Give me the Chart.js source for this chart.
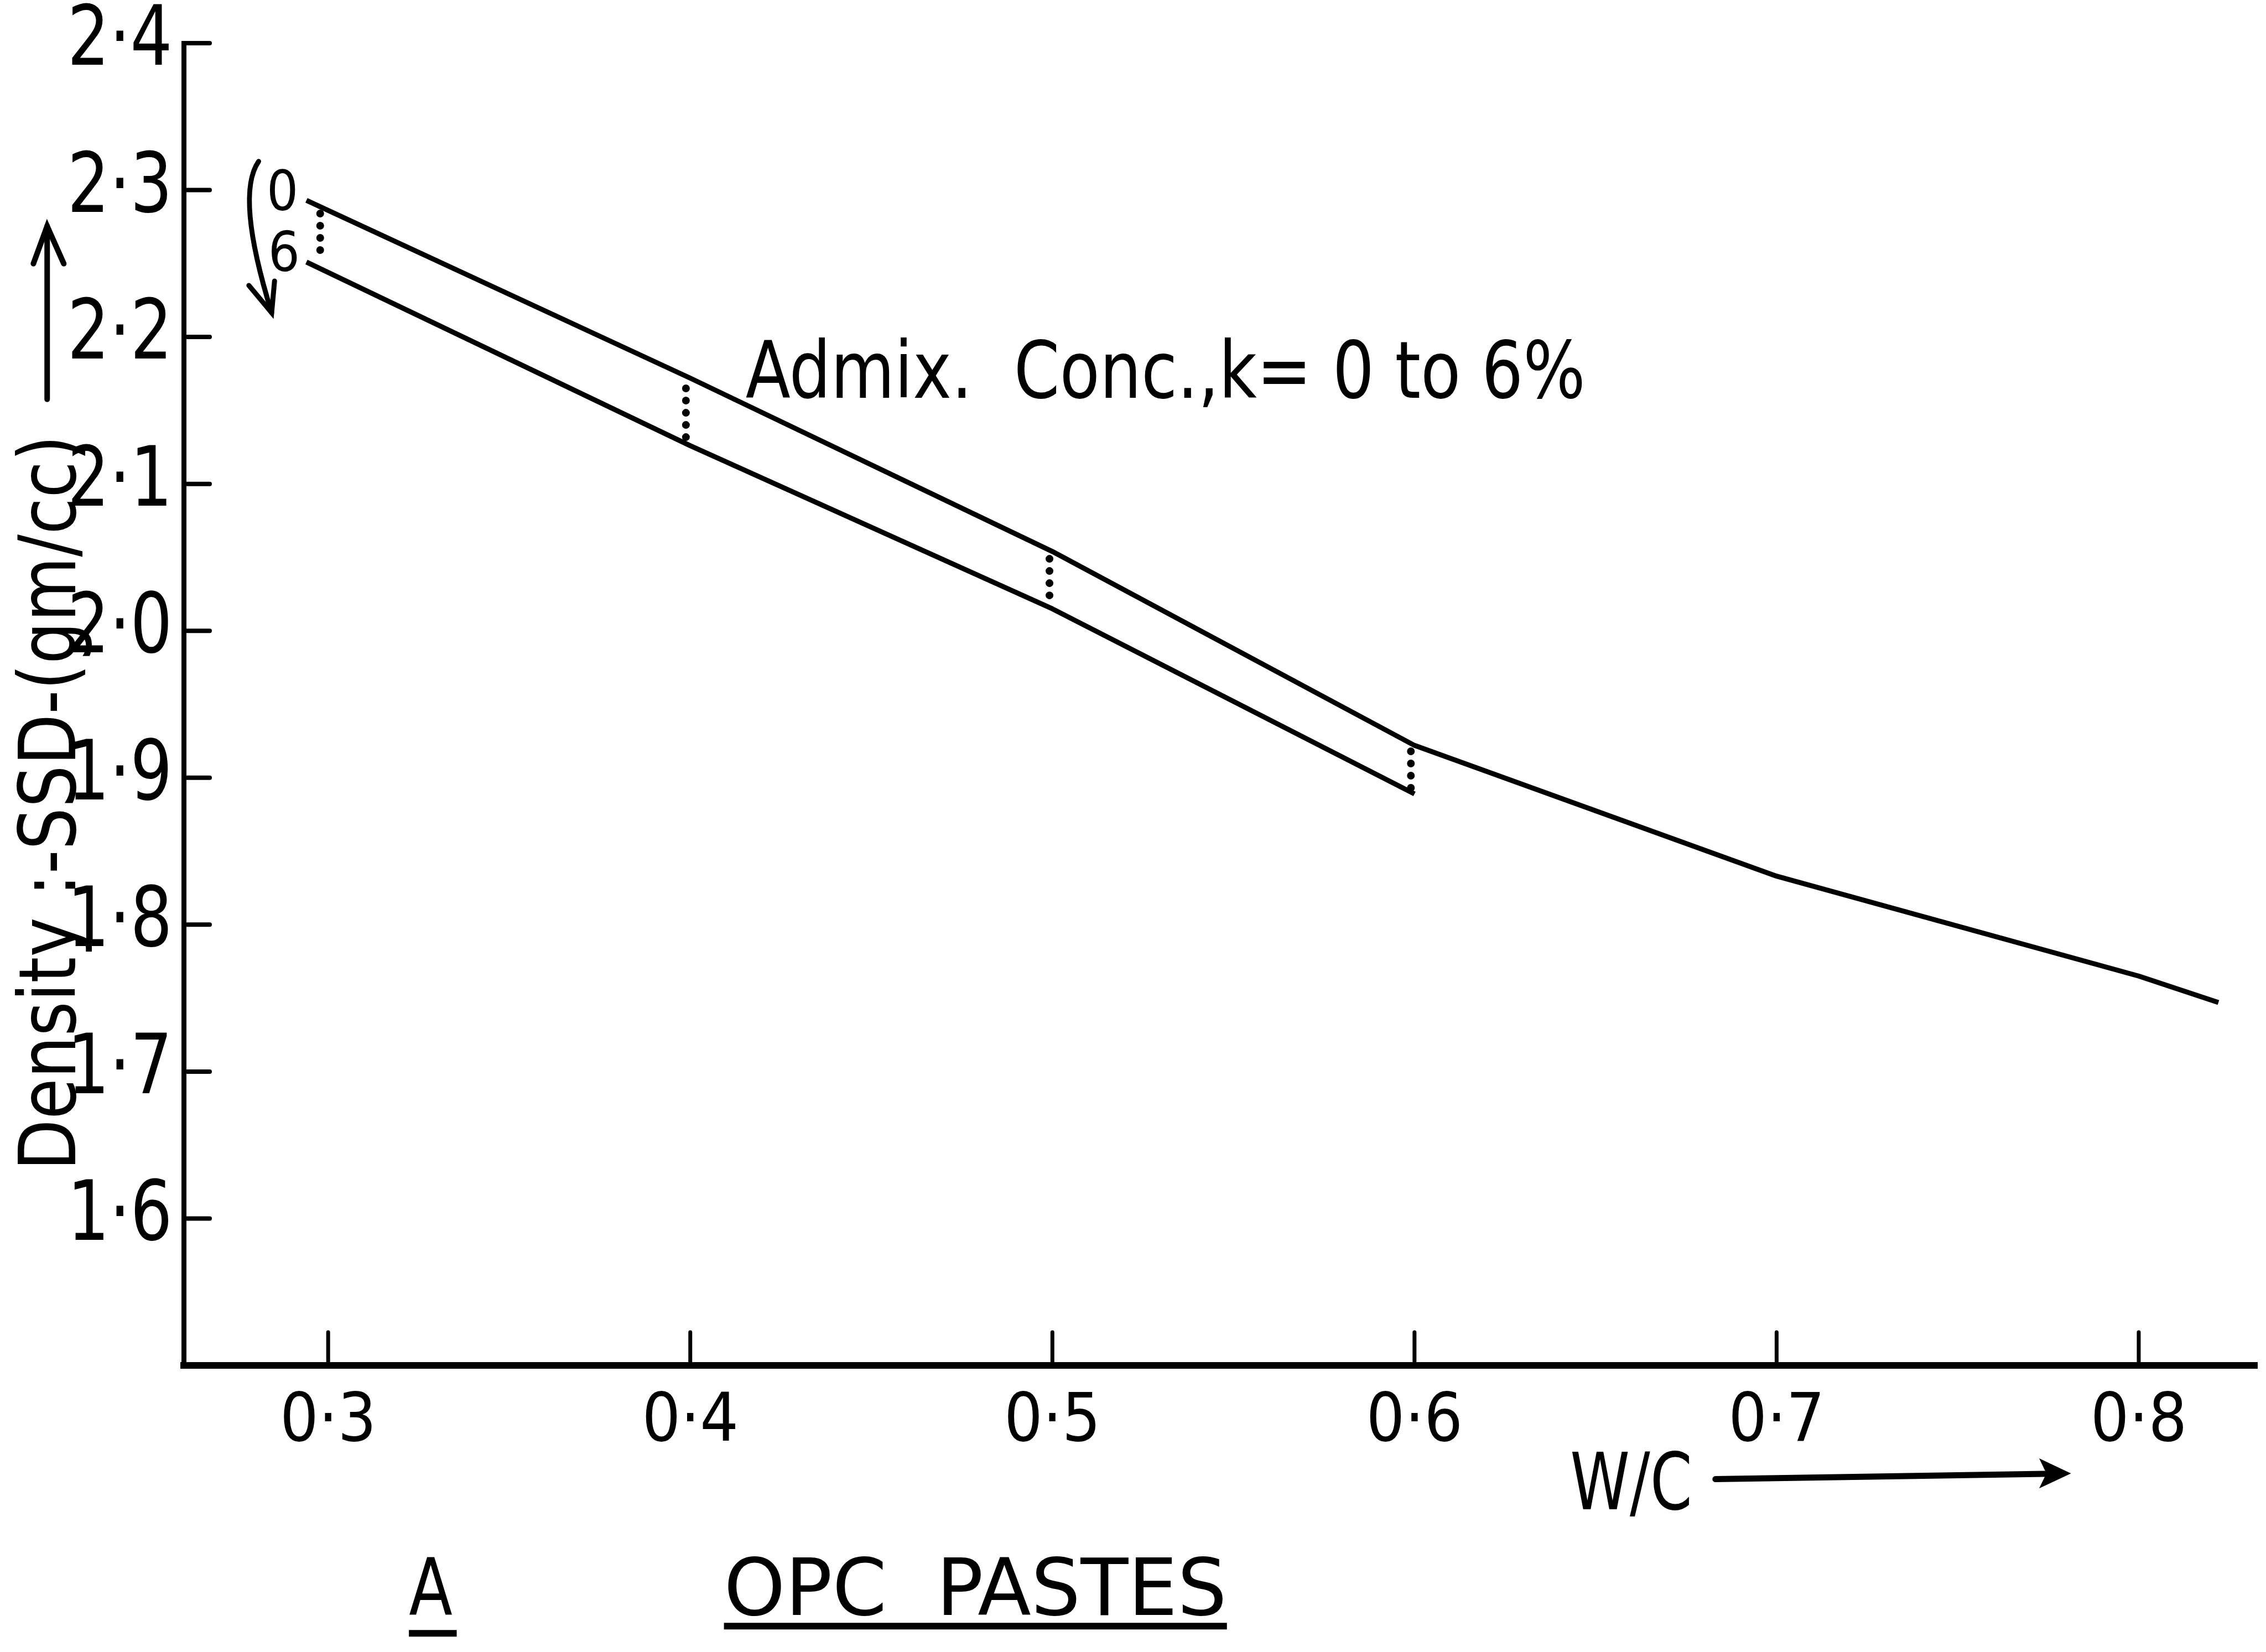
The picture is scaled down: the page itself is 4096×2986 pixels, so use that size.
<!DOCTYPE html>
<html>
<head>
<meta charset="utf-8">
<script src="https://cdn.jsdelivr.net/npm/chart.js@4.4.1/dist/chart.umd.min.js"></script>
<style>
  html, body { margin: 0; padding: 0; background: #ffffff; }
  #wrap { width: 4096px; height: 2986px; position: relative; }
</style>
</head>
<body>
<div id="wrap"><canvas id="c" width="4096" height="2986"></canvas></div>
<script>
// ---------- data ----------
const wcUpper   = [0.294, 0.4, 0.5, 0.6, 0.7, 0.8, 0.822];
const densityK0 = [2.293, 2.172, 2.054, 1.922, 1.833, 1.765, 1.747];
const wcLower   = [0.294, 0.4, 0.5, 0.6];
const densityK6 = [2.251, 2.126, 2.015, 1.889];
// dotted connectors between the two curves
const dotWc     = [0.2978, 0.3988, 0.4992, 0.599];
const dotTop    = [2.284, 2.165, 2.049, 1.918];
const dotBottom = [2.254, 2.129, 2.017, 1.889];
// ticks
const xTickValues = [0.3, 0.4, 0.5, 0.6, 0.7, 0.8];
const xTickLabels = ['0·3', '0·4', '0·5', '0·6', '0·7', '0·8'];
const yTickValues = [1.6, 1.7, 1.8, 1.9, 2.0, 2.1, 2.2, 2.3, 2.4];
const yTickLabels = ['1·6', '1·7', '1·8', '1·9', '2·0', '2·1', '2·2', '2·3', '2·4'];
// texts
const yTitle = 'Density :-SSD-(gm/cc)';
const xTitle = 'W/C';
const noteText = 'Admix.  Conc.,k= 0 to 6%';
const figLetter = 'A';
const figTitle = 'OPC  PASTES';
const kLabels = ['0', '6'];

// ---------- pick the narrowest installed sans ----------
const probe = document.createElement('canvas').getContext('2d');
function installed(fam) {
  const s = 'abcdefghijklmnopqrstuvwxyzABCDEFGHIJ0123456789';
  for (const fb of ['monospace', 'serif']) {
    probe.font = '72px ' + fb;
    const w0 = probe.measureText(s).width;
    probe.font = "72px '" + fam + "', " + fb;
    const w1 = probe.measureText(s).width;
    if (Math.abs(w0 - w1) < 0.5) return false;
  }
  return true;
}
const candidates = ['Liberation Sans Narrow', 'Noto Sans Condensed', 'Noto Sans ExtraCondensed',
                    'DejaVu Sans Condensed', 'Roboto Condensed', 'Liberation Sans'];
const picked = candidates.find(installed) || 'Liberation Sans';
const FONT = "'" + picked + "', 'Liberation Sans', sans-serif";
const INK = '#000000';

const Y_TICK_SIZE = 150;
const X_TICK_SIZE = 122;
probe.font = Y_TICK_SIZE + 'px ' + FONT;
const yLabelSqueeze = Math.min(1, 190 / probe.measureText('2·4').width);

// ---------- chart ----------
const datasets = [
  { data: wcUpper.map((x, i) => ({ x, y: densityK0[i] })), borderColor: INK, borderWidth: 9, pointRadius: 0, tension: 0, fill: false, borderJoinStyle: 'round' },
  { data: wcLower.map((x, i) => ({ x, y: densityK6[i] })), borderColor: INK, borderWidth: 9, pointRadius: 0, tension: 0, fill: false, borderJoinStyle: 'round' }
];
dotWc.forEach((x, i) => {
  datasets.push({
    data: [{ x, y: dotTop[i] }, { x, y: dotBottom[i] }],
    borderColor: INK, borderWidth: 14, borderDash: [0.01, 22], borderCapStyle: 'round',
    pointRadius: 0, fill: false
  });
});

function fitText(ctx, text, x0, x1, baseY, size) {
  ctx.font = size + 'px ' + FONT;
  const w = ctx.measureText(text).width;
  ctx.save();
  ctx.translate(x0, baseY);
  ctx.scale((x1 - x0) / w, 1);
  ctx.textAlign = 'left';
  ctx.textBaseline = 'alphabetic';
  ctx.fillText(text, 0, 0);
  ctx.restore();
}

// condense the y tick labels (drawn on a later layer, z = 1) about the axis line
const squeezeYLabels = {
  id: 'squeezeYLabels',
  afterDatasetsDraw(chart) {
    const ctx = chart.ctx;
    const ax = chart.scales.y.right;
    ctx.save();
    ctx.translate(ax, 0);
    ctx.scale(yLabelSqueeze, 1);
    ctx.translate(-ax, 0);
  },
  afterDraw(chart) {
    chart.ctx.restore();
  }
};

const annotations = {
  id: 'annotations',
  afterDraw(chart) {
    const ctx = chart.ctx;
    const xs = chart.scales.x, ys = chart.scales.y;
    const X = v => xs.getPixelForValue(v);
    const Y = v => ys.getPixelForValue(v);
    const area = chart.chartArea;
    ctx.save();
    ctx.setTransform(1, 0, 0, 1, 0, 0);
    ctx.fillStyle = INK;
    ctx.strokeStyle = INK;
    ctx.lineCap = 'round';

    // inward tick marks
    ctx.lineWidth = 8;
    yTickValues.forEach(v => {
      ctx.beginPath();
      ctx.moveTo(area.left, Y(v));
      ctx.lineTo(area.left + 47, Y(v));
      ctx.stroke();
    });
    ctx.lineWidth = 7;
    xTickValues.forEach(v => {
      ctx.beginPath();
      ctx.moveTo(X(v), area.bottom);
      ctx.lineTo(X(v), area.bottom - 60);
      ctx.stroke();
    });

    // y-axis title (rotated) and arrow
    ctx.font = '142px ' + FONT;
    const yLen = Y(1.6326) - Y(2.1331);
    const yw = ctx.measureText(yTitle).width;
    ctx.save();
    ctx.translate(X(0.2302), Y(1.6326));
    ctx.rotate(-Math.PI / 2);
    ctx.scale(yLen / yw, 1);
    ctx.textAlign = 'left';
    ctx.textBaseline = 'alphabetic';
    ctx.fillText(yTitle, 0, 0);
    ctx.restore();

    ctx.lineWidth = 10;
    ctx.beginPath();
    ctx.moveTo(X(0.2224), Y(2.1576));
    ctx.lineTo(X(0.2224), Y(2.2754));
    ctx.stroke();
    ctx.beginPath();
    ctx.moveTo(X(0.2186), Y(2.2499));
    ctx.lineTo(X(0.2224), Y(2.2754));
    ctx.lineTo(X(0.2270), Y(2.2499));
    ctx.stroke();

    // x-axis title and arrow
    fitText(ctx, xTitle, X(0.643), X(0.6767), Y(1.4020), 142);
    ctx.lineWidth = 11;
    ctx.beginPath();
    ctx.moveTo(X(0.6831), Y(1.4226));
    ctx.lineTo(X(0.7740), Y(1.4262));
    ctx.stroke();
    ctx.beginPath();
    ctx.moveTo(X(0.7813), Y(1.4265));
    ctx.lineTo(X(0.7725), Y(1.4367));
    ctx.lineTo(X(0.7745), Y(1.4265));
    ctx.lineTo(X(0.7725), Y(1.4163));
    ctx.closePath();
    ctx.fill();

    // annotation inside plot
    fitText(ctx, noteText, X(0.4153), X(0.6472), Y(2.1586), 142);

    // 0 / 6 labels and curved arrow
    ctx.font = '100px ' + FONT;
    ctx.textAlign = 'center';
    ctx.textBaseline = 'middle';
    ctx.fillText(kLabels[0], X(0.2874), Y(2.296));
    ctx.fillText(kLabels[1], X(0.2878), Y(2.2548));
    ctx.lineWidth = 9;
    ctx.beginPath();
    ctx.moveTo(X(0.2808), Y(2.3195));
    ctx.quadraticCurveTo(X(0.2743), Y(2.2965), X(0.2844), Y(2.2165));
    ctx.stroke();
    ctx.beginPath();
    ctx.moveTo(X(0.2781), Y(2.2351));
    ctx.lineTo(X(0.2844), Y(2.2165));
    ctx.lineTo(X(0.2852), Y(2.2381));
    ctx.stroke();

    // figure caption
    fitText(ctx, figLetter, X(0.3223), X(0.3343), Y(1.3303), 142);
    fitText(ctx, figTitle, X(0.4093), X(0.5482), Y(1.3303), 142);
    ctx.lineWidth = 12;
    ctx.lineCap = 'butt';
    ctx.beginPath();
    ctx.moveTo(X(0.3223), Y(1.3176));
    ctx.lineTo(X(0.3355), Y(1.3176));
    ctx.stroke();
    ctx.beginPath();
    ctx.moveTo(X(0.4093), Y(1.3225));
    ctx.lineTo(X(0.5482), Y(1.3225));
    ctx.stroke();

    ctx.restore();
  }
};

new Chart(document.getElementById('c'), {
  type: 'line',
  data: { datasets },
  options: {
    responsive: false,
    animation: false,
    devicePixelRatio: 1,
    layout: { padding: { left: 0, right: 16, top: 78, bottom: 0 } },
    plugins: { legend: { display: false }, tooltip: { enabled: false }, title: { display: false } },
    scales: {
      x: {
        type: 'linear',
        min: 0.2601,
        max: 0.8327,
        afterBuildTicks: s => { s.ticks = xTickValues.map(v => ({ value: v })); },
        afterFit: s => { s.height = 518; s.paddingLeft = 0; s.paddingRight = 0; },
        ticks: {
          callback: (v, i) => xTickLabels[i],
          font: { size: X_TICK_SIZE, family: FONT },
          color: INK,
          padding: 31,
          maxRotation: 0,
          autoSkip: false
        },
        grid: { display: false, drawTicks: false },
        border: { display: true, color: INK, width: 12 }
      },
      y: {
        type: 'linear',
        min: 1.5,
        max: 2.4,
        afterBuildTicks: s => { s.ticks = yTickValues.map(v => ({ value: v })); },
        afterFit: s => { s.width = 332; s.paddingTop = 0; s.paddingBottom = 0; },
        ticks: {
          callback: (v, i) => yTickLabels[i],
          font: { size: Y_TICK_SIZE, family: FONT },
          color: INK,
          padding: 23,
          autoSkip: false,
          z: 1
        },
        grid: { display: false, drawTicks: false },
        border: { display: true, color: INK, width: 9 }
      }
    }
  },
  plugins: [squeezeYLabels, annotations]
});
</script>
</body>
</html>
